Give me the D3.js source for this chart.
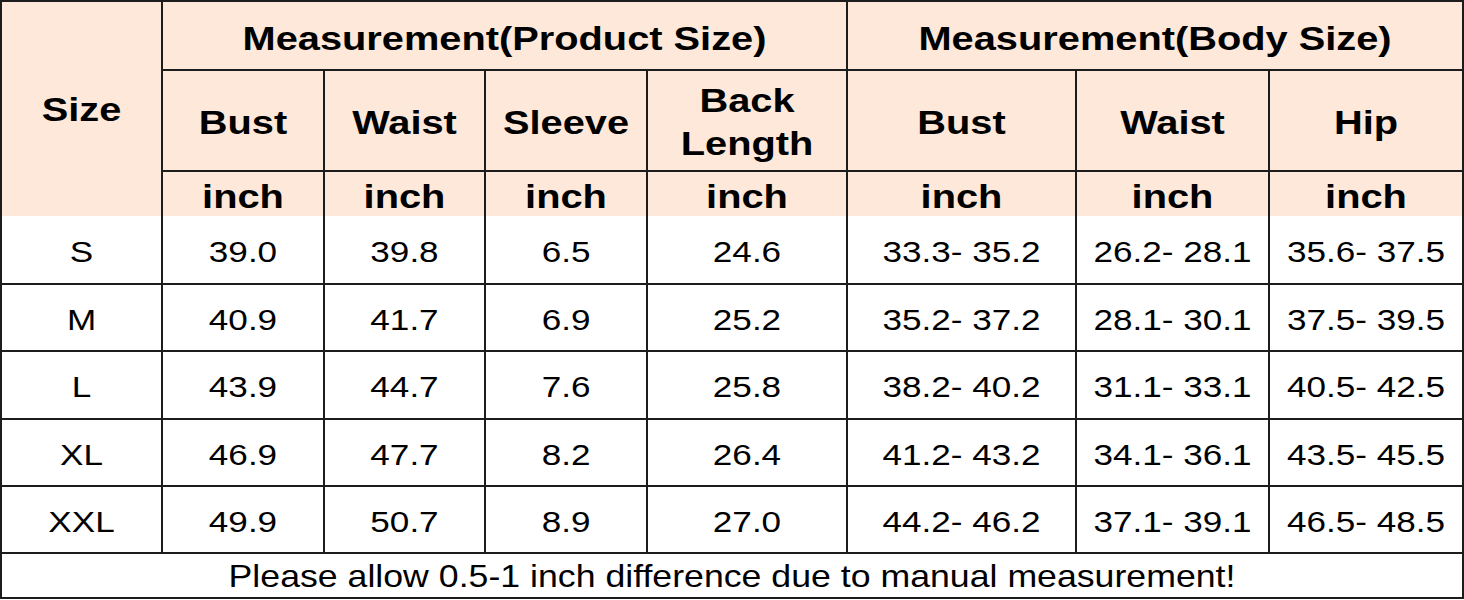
<!DOCTYPE html>
<html>
<head>
<meta charset="utf-8">
<script src="https://cdn.jsdelivr.net/npm/d3@7"></script>
<style>
  body { margin: 0; background: #fff; }
  text { font-family: "Liberation Sans", Arial, sans-serif; fill: #000; }
</style>
</head>
<body>
<script>
// size chart values
var sizes = ["S", "M", "L", "XL", "XXL"];
var productBust = [39.0, 40.9, 43.9, 46.9, 49.9];
var productWaist = [39.8, 41.7, 44.7, 47.7, 50.7];
var productSleeve = [6.5, 6.9, 7.6, 8.2, 8.9];
var productBackLength = [24.6, 25.2, 25.8, 26.4, 27.0];
var bodyBust = [[33.3, 35.2], [35.2, 37.2], [38.2, 40.2], [41.2, 43.2], [44.2, 46.2]];
var bodyWaist = [[26.2, 28.1], [28.1, 30.1], [31.1, 33.1], [34.1, 36.1], [37.1, 39.1]];
var bodyHip = [[35.6, 37.5], [37.5, 39.5], [40.5, 42.5], [43.5, 45.5], [46.5, 48.5]];

var groupHeaders = ["Measurement(Product Size)", "Measurement(Body Size)"];
var columnHeaders = [["Bust"], ["Waist"], ["Sleeve"], ["Back", "Length"], ["Bust"], ["Waist"], ["Hip"]];
var unitLabel = "inch";
var footNote = "Please allow 0.5-1 inch difference due to manual measurement!";

var W = 1464, H = 600;
var stretch = 1.17;          // the original lettering is a bit wide
var lineColor = "#1c1c1c";
var peach = "#fde8da";

// layout: column widths and row heights
var colWidths = [161, 162, 161, 162, 200, 229, 193, 194];
var rowHeights = [69, 101, 45, 68, 67, 68, 67, 67, 45];

var colEdges = [1].concat(Array.from(d3.cumsum(colWidths), function(d) { return d + 1; }));
var rowEdges = [1].concat(Array.from(d3.cumsum(rowHeights), function(d) { return d + 1; }));

var colIdx = d3.range(colWidths.length);
var rowIdx = d3.range(rowHeights.length);

var x0 = d3.scaleOrdinal().domain(colIdx).range(colEdges.slice(0, -1));
var x1 = d3.scaleOrdinal().domain(colIdx).range(colEdges.slice(1));
var y0 = d3.scaleOrdinal().domain(rowIdx).range(rowEdges.slice(0, -1));
var y1 = d3.scaleOrdinal().domain(rowIdx).range(rowEdges.slice(1));

function cx(c) { return (x0(c) + x1(c)) / 2; }
function cy(r) { return (y0(r) + y1(r)) / 2; }

var svg = d3.select("body").append("svg")
            .attr("width", W)
            .attr("height", H);

// header background
svg.append("rect")
   .attr("x", 0).attr("y", 0)
   .attr("width", W).attr("height", y1(2))
   .attr("fill", peach);

// build cell text list
var cells = [];
cells.push({x: cx(0), y: (y0(0) + y1(2)) / 2, t: "Size", size: 34, bold: true});
cells.push({x: (x0(1) + x1(4)) / 2, y: cy(0) + 2, t: groupHeaders[0], size: 34, bold: true});
cells.push({x: (x0(5) + x1(7)) / 2, y: cy(0) + 2, t: groupHeaders[1], size: 34, bold: true});
columnHeaders.forEach(function(lines, i) {
  lines.forEach(function(l, j) {
    var off = (j - (lines.length - 1) / 2) * 43;
    cells.push({x: cx(i + 1), y: cy(1) + 1 + off, t: l, size: 34, bold: true});
  });
  cells.push({x: cx(i + 1), y: cy(2) + 2, t: unitLabel, size: 34, bold: true});
});

function range(p) { return p[0].toFixed(1) + "- " + p[1].toFixed(1); }
var columns = [
  sizes,
  productBust.map(function(d) { return d.toFixed(1); }),
  productWaist.map(function(d) { return d.toFixed(1); }),
  productSleeve.map(function(d) { return d.toFixed(1); }),
  productBackLength.map(function(d) { return d.toFixed(1); }),
  bodyBust.map(range),
  bodyWaist.map(range),
  bodyHip.map(range)
];
columns.forEach(function(col, c) {
  col.forEach(function(v, r) {
    cells.push({x: cx(c), y: cy(r + 3) + 1.5, t: v, size: 30, bold: false});
  });
});
cells.push({x: (colEdges[0] + colEdges[colEdges.length - 1]) / 2, y: cy(8) + 1, t: footNote, size: 30.5, bold: false});

svg.append("g").selectAll("text")
   .data(cells)
   .enter().append("text")
   .attr("transform", function(d) { return "translate(" + d.x + "," + d.y + ") scale(" + stretch + ",1)"; })
   .attr("text-anchor", "middle")
   .attr("dy", "0.36em")
   .attr("font-size", function(d) { return d.size; })
   .attr("font-weight", function(d) { return d.bold ? "bold" : "normal"; })
   .text(function(d) { return d.t; });

// grid lines
var lines = [];
// horizontal
lines.push([colEdges[0], rowEdges[0], colEdges[8], rowEdges[0]]);
lines.push([x0(1), y1(0), colEdges[8], y1(0)]);
lines.push([x0(1), y1(1), colEdges[8], y1(1)]);
d3.range(3, 9).forEach(function(r) {
  lines.push([colEdges[0], y1(r), colEdges[8], y1(r)]);
});
// vertical
lines.push([colEdges[0], rowEdges[0], colEdges[0], rowEdges[9]]);
lines.push([colEdges[8], rowEdges[0], colEdges[8], rowEdges[9]]);
lines.push([x0(1), rowEdges[0], x0(1), y1(7)]);
lines.push([x0(5), rowEdges[0], x0(5), y1(7)]);
[2, 3, 4, 6, 7].forEach(function(c) {
  lines.push([x0(c), y1(0), x0(c), y1(7)]);
});

svg.append("g").selectAll("line")
   .data(lines)
   .enter().append("line")
   .attr("x1", function(d) { return d[0]; })
   .attr("y1", function(d) { return d[1]; })
   .attr("x2", function(d) { return d[2]; })
   .attr("y2", function(d) { return d[3]; })
   .attr("stroke", lineColor)
   .attr("stroke-width", 2)
   .attr("stroke-linecap", "square");
</script>
</body>
</html>
